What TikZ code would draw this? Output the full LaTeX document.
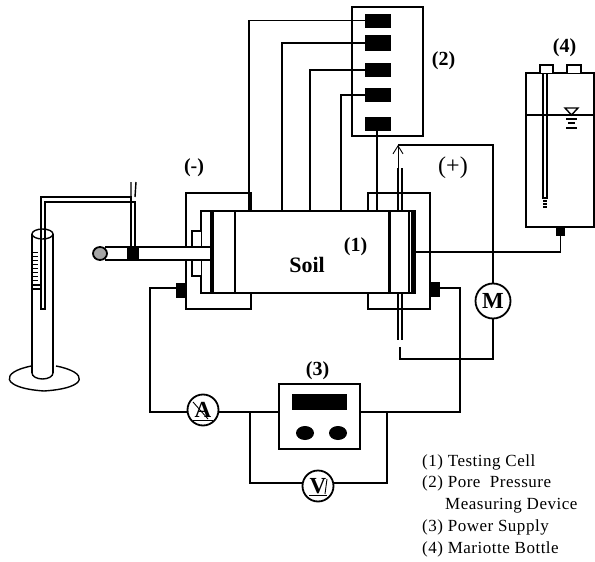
\documentclass[tikz,border=0pt]{standalone}
\usepackage{fontspec}
\setmainfont{Liberation Serif}
\usetikzlibrary{arrows.meta,shapes.geometric}
\tikzset{
  wire/.style={line width=1.4pt,black},
  thin wire/.style={line width=0.9pt,black},
  display/.style={draw=none,fill=black,inner sep=0pt,minimum width=26pt,minimum height=14pt},
  box/.style={draw,line width=1.5pt,fill=white,inner sep=0pt},
  meter/.style={circle,draw,line width=1.8pt,fill=white,inner sep=0pt,minimum size=31pt,font=\bfseries\fontsize{23}{23}\selectfont},
  lab/.style={inner sep=0pt,font=\bfseries\fontsize{20}{20}\selectfont},
  legend/.style={inner sep=0pt,anchor=west,font=\fontsize{17}{17}\selectfont\addfontfeature{LetterSpace=3}},
  terminal/.style={fill=black,draw=none,inner sep=0pt,minimum width=10pt,minimum height=15pt}
}
\begin{document}
\begin{tikzpicture}[x=1pt,y=-1pt,line join=miter]
\useasboundingbox (0,0) rectangle (595,562);
\fill[white] (0,0) rectangle (595,562);

% outer end boxes
\draw[wire] (251,211) -- (251,193) -- (186,193) -- (186,309) -- (251,309) -- (251,293);
\draw[wire] (368,211) -- (368,193) -- (430,193) -- (430,309) -- (368,309) -- (368,293);

% cell
\node[box,minimum width=214pt,minimum height=82pt] (cell) at (308,252) {};
\draw[line width=4pt] (212,211) -- (212,293);
\draw[wire] (235,211) -- (235,293);
\draw[line width=3pt] (389.5,211) -- (389.5,293);
\draw[wire] (409,211) -- (409,293);
\draw[line width=4.5pt] (413,211) -- (413,293);
\draw[wire,fill=white] (201,231) -- (192,231) -- (192,276) -- (201,276);
\node[lab,font=\bfseries\fontsize{22}{22}\selectfont] (soil) at (307,265) {Soil};
\node[lab] (l1) at (355.5,247) {(1)};

% device 2
\node[box,minimum width=71pt,minimum height=129pt] (dev) at (387.5,71.5) {};
\node[display] (d1) at (378,20.5) {};
\node[display,minimum height=16pt] (d2) at (378,43) {};
\node[display] (d3) at (378,70) {};
\node[display] (d4) at (378,95) {};
\node[display] (d5) at (378,123.5) {};
\coordinate (t1) at (249,211);
\coordinate (t2) at (282,211);
\coordinate (t3) at (310,211);
\coordinate (t4) at (341,211);
\coordinate (t5) at (377,211);
\draw[wire] (d1.west) -| (t1);
\draw[wire] (d2.west) -| (t2);
\draw[wire] (d3.west) -| (t3);
\draw[wire] (d4.west) -| (t4);
\draw[wire] (d5.south -| t5) -- (t5);

% tube and arrow at right
\draw[wire] (398,168) -- (398,211) (402,168) -- (402,211);
\draw[wire] (398,293) -- (398,340) (402,293) -- (402,340);
\node[ellipse,meter,minimum width=35pt,minimum height=30pt] (M) at (493,301) {M};
\coordinate (ma) at (398,145);
\coordinate (mb) at (400,347);
\coordinate (tubeTop) at (398,168);
\draw[thin wire,-{Straight Barb[length=8pt,width=10pt]}] (tubeTop) -- (ma);
\draw[wire] (ma) -| (M.north);
\draw[wire] (M.south) |- (mb |- 0,359) -- (mb);

% bottle
\node[box,minimum width=68pt,minimum height=154pt] (bottle) at (560,150) {};
\draw[wire,fill=white] (540,73) -- (540,65) -- (553,65) -- (553,73);
\draw[wire,fill=white] (567,73) -- (567,65) -- (581,65) -- (581,73);
\draw[wire] (543,73) -- (543,198) -- (547,198) -- (547,73);
\draw[wire] (543,201) -- (547,201) (543,204) -- (547,204) (543,207) -- (547,207);
\draw[wire] (bottle.west |- 0,115) -- (bottle.east |- 0,115);
\draw[wire,fill=white] (565,108) -- (578,108) -- (571.5,115) -- cycle;
\draw[wire] (566,119) -- (577,119) (568,123) -- (575,123);
\draw[line width=2pt] (566,127.5) -- (577,127.5);
\node[fill=black,inner sep=0pt,minimum width=9pt,minimum height=9pt] (plug) at (560.5,231.5) {};
\coordinate (cellR) at (415,252);
\draw[wire] (cellR) -| (plug.south);

% rod and collection cylinder
\fill[white] (105,247) rectangle (210,260);
\draw[wire] (212,247) -- (105,247) (105,260) -- (212,260);
\draw[line width=1.8pt,fill=black!35] (100,253.5) ellipse[x radius=7,y radius=6.5];
\node[fill=black,inner sep=0pt,minimum width=12pt,minimum height=13pt] (clamp) at (133,253.5) {};
\draw[wire] (131,247) -- (131,197) -- (41,197) -- (41,234);
\draw[wire] (135,247) -- (135,202) -- (45,202) -- (45,234);
\draw[wire] (131,197) -- (131,182) (135,197) -- (136,182);
\draw[wire] (32,373) -- (32,234) (53,234) -- (53,373);
\draw[wire] (42.5,234) ellipse[x radius=10.5,y radius=5];
\draw[wire] (32,373) arc[start angle=180,end angle=0,x radius=10.5,y radius=6];
\draw[wire] (31.5,366) .. controls (0,372) and (0,388) .. (44,391) .. controls (90,388) and (88,372) .. (56,366);
\draw[wire] (41,234) -- (41,309) -- (45,309) -- (45,234);
\foreach \yy in {252,256,260,264,268,272,276,280} \draw[thin wire] (33,\yy) -- (38,\yy);
\draw[wire] (33,285) -- (41,285) (33,289) -- (41,289);

% terminals
\node[terminal] (tl) at (181,290.5) {};
\node[terminal] (tr) at (435,289.5) {};

% power supply
\node[box,minimum width=81pt,minimum height=65pt] (psu) at (319.5,416.5) {};
\node[fill=black,inner sep=0pt,minimum width=55pt,minimum height=16pt] (screen) at (319.5,402) {};
\node[ellipse,fill=black,inner sep=0pt,minimum width=18pt,minimum height=14pt] (k1) at (305,433) {};
\node[ellipse,fill=black,inner sep=0pt,minimum width=18pt,minimum height=14pt] (k2) at (338,433) {};

% meters
\node[meter] (A) at (203,410) {A};
\node[meter] (V) at (318,486) {V};
\draw[thin wire] (193,402) -- (208,419);
\draw[thin wire] (193,420) -- (213,420);
\draw[thin wire] (327,479) -- (325,494);
\draw[thin wire] (309,495) -- (327,495);

% circuit wires
\coordinate (jl) at (150,412);
\coordinate (jb) at (250,412);
\coordinate (jr) at (460,412);
\coordinate (jv) at (387,412);
\draw[wire] (tl.west |- 0,288) -- (150,288) -- (jl) -- (A.west |- jl);
\draw[wire] (A.east |- jl) -- (psu.west |- jl);
\draw[wire] (jb) -- (250,483) -- (V.west |- 0,483);
\draw[wire] (V.east |- 0,483) -- (387,483) -- (jv);
\draw[wire] (psu.east |- jr) -- (jr) -- (460,288) -- (tr.east |- 0,288);

% labels
\node[lab] (lminus) at (194,168) {(-)};
\node[lab,font=\fontsize{24}{24}\selectfont] (lplus) at (453,168) {(+)};
\node[lab] (l2) at (443.5,61) {(2)};
\node[lab] (l4) at (564.5,48) {(4)};
\node[lab] (l3) at (317.5,371) {(3)};
\node[legend] (g1) at (422,462) {(1) Testing Cell};
\node[legend] (g2) at (422,483) {(2) Pore\ \ Pressure};
\node[legend] (g2b) at (445,506) {Measuring Device};
\node[legend] (g3) at (422,527) {(3) Power Supply};
\node[legend] (g4) at (422,549) {(4) Mariotte Bottle};
\end{tikzpicture}
\end{document}
